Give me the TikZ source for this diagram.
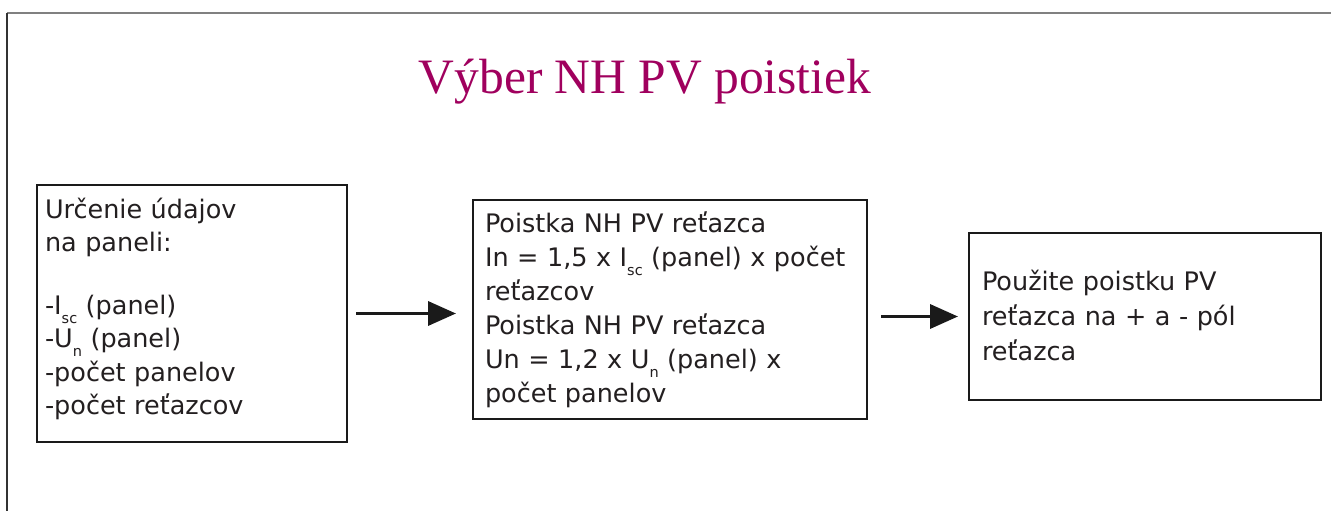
\documentclass[tikz,border=0pt]{standalone}
\usepackage{fontspec}
\setmainfont{DejaVu Sans}
\newfontfamily\titlefont{Liberation Serif}
\usetikzlibrary{arrows.meta}
\definecolor{titlec}{HTML}{A0005E}
\definecolor{txtc}{HTML}{231F20}
\definecolor{linec}{HTML}{1A1A1A}
\newcommand{\sbs}[1]{\raisebox{-9pt}{\fontsize{14.5pt}{14.5pt}\selectfont #1}}
\newcommand{\tstrut}{\rule{0pt}{26pt}}
\begin{document}
\begin{tikzpicture}[x=1pt,y=-1pt,
  boxst/.style={draw=linec, line width=2.4pt, inner sep=0pt, outer sep=0pt, anchor=north west},
  txtst/.style={inner sep=0pt, outer sep=0pt, anchor=north west, align=left, text=txtc},
  arr/.style={draw=linec, line width=3.5pt, -{Triangle[length=28pt,width=24pt]}}]
\useasboundingbox (0,0) rectangle (1331,511);
\fill[white] (0,0) rectangle (1331,511);
\draw[black!50, line width=1.5pt] (7,13) -- (1331,13);
\draw[black!80, line width=1.5pt] (7,13) -- (7,511);

\node[inner sep=0pt, anchor=base, text=titlec, font=\titlefont\fontsize{49.5pt}{50pt}\selectfont] (title) at (645,93) {Výber NH PV poistiek};

\node[boxst, minimum width=310pt, minimum height=257pt] (b1) at (37,185) {};
\node[boxst, minimum width=394pt, minimum height=219pt] (b2) at (473,200) {};
\node[boxst, minimum width=352pt, minimum height=167pt] (b3) at (969,233) {};

\node[txtst, text width=300pt, font=\fontsize{25.5pt}{33.3pt}\selectfont] (t1) at (45,192)
  {\tstrut Určenie údajov\\ na paneli:\\[30pt] -I\sbs{sc} (panel)\\ -U\sbs{n} (panel)\\ -počet panelov\\ -počet reťazcov};
\node[txtst, text width=380pt, font=\fontsize{25.5pt}{34pt}\selectfont] (t2) at (485,206)
  {\tstrut Poistka NH PV reťazca\\ In = 1,5 x I\sbs{sc} (panel) x počet\\ reťazcov\\ Poistka NH PV reťazca\\ Un = 1,2 x U\sbs{n} (panel) x\\ počet panelov};
\node[txtst, text width=330pt, font=\fontsize{25.5pt}{35pt}\selectfont] (t3) at (982,264)
  {\tstrut Použite poistku PV\\ reťazca na + a - pól\\ reťazca};

\draw[arr, shorten <=9pt, shorten >=17pt] (b1.east) -- (b1.east -| b2.west);
\draw[arr, shorten <=14pt, shorten >=11pt] (b3.west -| b2.east) -- (b3.west);
\end{tikzpicture}
\end{document}
